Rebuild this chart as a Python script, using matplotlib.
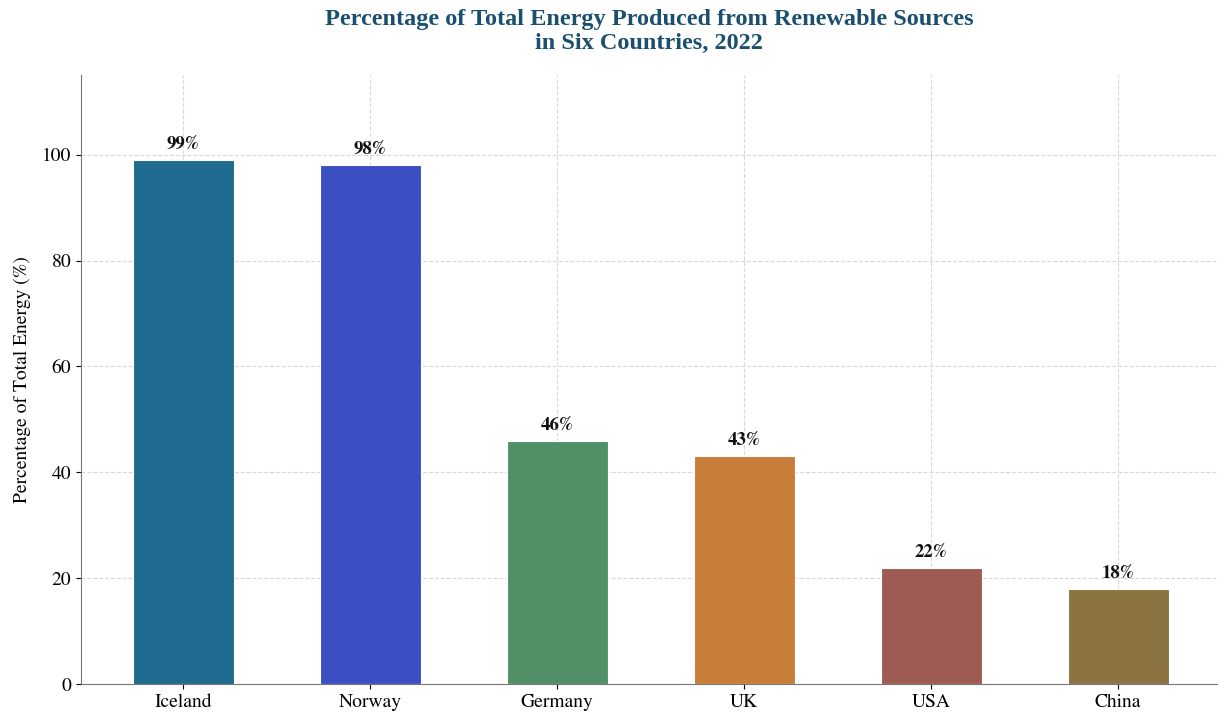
import matplotlib.pyplot as plt

countries = ['Iceland', 'Norway', 'Germany', 'UK', 'USA', 'China']
renewable_pct = [99, 98, 46, 43, 22, 18]
bar_colors = ['#1f6b8f', '#3b4fc2', '#519066', '#c87d3a', '#a05a54', '#8b7442']

plt.rcParams['font.family'] = ['STIXGeneral', 'DejaVu Serif']
plt.rcParams['mathtext.fontset'] = 'stix'

fig = plt.figure(figsize=(12.18, 7.17), dpi=100)
ax = fig.add_axes([0.0665, 0.046, 0.9355, 0.849])

x = range(len(countries))
bars = ax.bar(x, renewable_pct, width=0.54, color=bar_colors,
              edgecolor='white', linewidth=0.8, zorder=3)

# value labels
for b, v in zip(bars, renewable_pct):
    ax.annotate(f'{v}%', (b.get_x() + b.get_width() / 2, b.get_height()),
                xytext=(0, 5), textcoords='offset points', ha='center',
                va='bottom', fontsize=13.5, fontweight='bold', color='#111111')

ax.set_xticks(list(x))
ax.set_xticklabels(countries, fontsize=14)
ax.set_ylim(0, 115)
ax.set_yticks([0, 20, 40, 60, 80, 100])
ax.tick_params(axis='y', labelsize=14)
ax.set_ylabel('Percentage of Total Energy (%)', fontsize=14, labelpad=8)

ax.grid(True, linestyle='--', color='#d9d9d9', linewidth=0.8, zorder=0)
ax.set_axisbelow(True)
for s in ['top', 'right']:
    ax.spines[s].set_visible(False)
for s in ['left', 'bottom']:
    ax.spines[s].set_color('#777777')

fig.suptitle('Percentage of Total Energy Produced from Renewable Sources\nin Six Countries, 2022',
             fontsize=17.5, fontweight='bold', color='#1b4f6e',
             fontfamily=['Liberation Serif'], y=0.988, x=0.533, linespacing=1.2)

plt.savefig('out.png', dpi=100)
